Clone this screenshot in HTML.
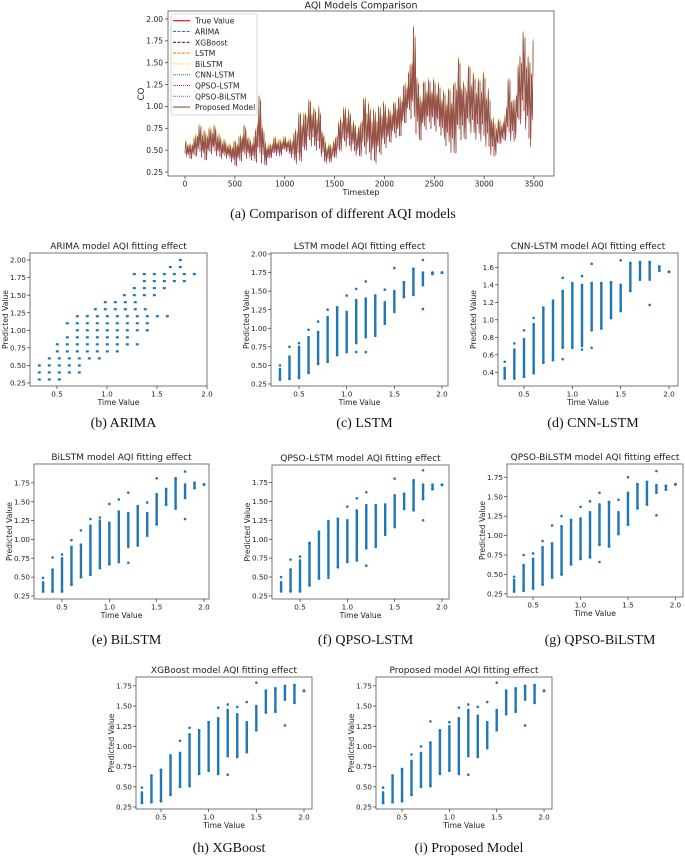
<!DOCTYPE html>
<html><head><meta charset="utf-8">
<style>
html,body{margin:0;padding:0;background:#fff;}
svg{display:block;}
text{font-family:"DejaVu Sans","Liberation Sans",sans-serif;fill:#222;}
.cap{font-family:"Liberation Serif","DejaVu Serif",serif;font-size:14px;fill:#111;}
</style></head>
<body>
<svg id="fig" width="685" height="856" viewBox="0 0 685 856" xmlns="http://www.w3.org/2000/svg"></svg>
<script>
// ===== Top chart data (CO per 50-timestep bin) =====
const binTimes = [0,50,100,150,200,250,300,350,400,450,500,550,600,650,700,750,800,850,900,950,1000,1050,1100,1150,1200,1250,1300,1350,1400,1450,1500,1550,1600,1650,1700,1750,1800,1850,1900,1950,2000,2050,2100,2150,2200,2250,2300,2350,2400,2450,2500,2550,2600,2650,2700,2750,2800,2850,2900,2950,3000,3050,3100,3150,3200,3250,3300,3350,3400,3450,3500];
const binHigh = [0.62,0.55,0.65,0.80,0.70,0.75,0.78,0.65,0.60,0.55,0.60,0.65,0.80,0.60,0.65,1.20,0.60,0.55,0.65,0.60,0.65,0.60,0.70,0.95,0.90,1.10,0.95,1.00,0.60,0.55,0.60,0.85,1.00,0.95,0.80,0.75,1.15,1.00,0.95,1.00,1.05,0.95,1.05,1.10,1.25,1.40,2.00,1.10,1.30,1.30,1.30,1.25,1.15,1.20,1.25,1.60,1.20,1.50,1.35,1.30,1.40,1.15,0.80,0.85,0.80,1.40,1.00,1.55,1.90,1.50,1.80];
const binLow = [0.45,0.40,0.42,0.45,0.35,0.45,0.45,0.40,0.42,0.40,0.30,0.35,0.40,0.40,0.35,0.35,0.30,0.40,0.45,0.42,0.50,0.45,0.35,0.30,0.45,0.55,0.50,0.45,0.35,0.35,0.40,0.45,0.55,0.50,0.45,0.40,0.45,0.40,0.30,0.40,0.50,0.55,0.65,0.60,0.75,0.90,0.70,0.55,0.70,0.75,0.70,0.70,0.55,0.50,0.35,0.60,0.55,0.70,0.60,0.60,0.55,0.45,0.38,0.55,0.60,0.60,0.55,0.75,0.80,0.50,0.50];
const topYTicks = [0.25,0.50,0.75,1.00,1.25,1.50,1.75,2.00];
const topXTicks = [0,500,1000,1500,2000,2500,3000,3500];
const legendLabels = ["True Value","ARIMA","XGBoost","LSTM","BiLSTM","CNN-LSTM","QPSO-LSTM","QPSO-BiLSTM","Proposed Model"];

// ===== Scatter data =====
const colX = [0.3,0.4,0.5,0.6,0.7,0.8,0.9,1.0,1.1,1.2,1.3,1.4,1.5,1.6,1.7,1.8,1.9,2.0];
const arimaLevels = [0.3,0.4,0.5,0.6,0.7,0.8,0.9,1.0,1.1,1.2,1.3,1.4,1.5,1.6,1.7,1.8,1.9,2.0];
const arimaXmin = [0.32,0.32,0.32,0.42,0.50,0.50,0.60,0.70,0.60,0.70,0.88,0.98,1.17,1.27,1.37,1.27,1.63,1.73];
const arimaXmax = [0.52,0.80,0.80,0.98,1.18,1.37,1.27,1.47,1.47,1.63,1.45,1.28,1.55,1.65,1.83,1.93,1.73,1.73];
const lstmLo  = [0.31,0.32,0.35,0.40,0.52,0.55,0.64,0.68,0.80,0.88,0.90,1.06,1.22,1.42,1.45,1.58,1.73,1.75];
const lstmHi  = [0.45,0.62,0.75,0.88,0.95,1.15,1.28,1.22,1.38,1.40,1.44,1.35,1.50,1.62,1.80,1.75,1.75,1.75];
const lstmMin = [0.31,0.32,0.33,0.40,0.52,0.55,0.64,0.68,0.68,0.68,0.90,1.06,1.22,1.42,1.45,1.26,1.73,1.75];
const lstmMax = [0.50,0.75,0.80,0.98,1.09,1.25,1.28,1.44,1.53,1.63,1.44,1.52,1.81,1.62,1.80,1.92,1.75,1.75];
const cnnLo  = [0.33,0.33,0.35,0.39,0.51,0.54,0.68,0.68,0.70,0.88,0.90,1.02,1.10,1.33,1.46,1.46,1.56,1.55];
const cnnHi  = [0.45,0.66,0.78,0.95,1.12,1.20,1.33,1.40,1.40,1.42,1.42,1.43,1.40,1.65,1.66,1.66,1.61,1.55];
const cnnMin = [0.33,0.33,0.35,0.39,0.51,0.54,0.55,0.68,0.66,0.68,0.90,1.02,1.10,1.33,1.46,1.17,1.56,1.55];
const cnnMax = [0.52,0.73,0.88,1.02,1.14,1.22,1.48,1.42,1.50,1.64,1.42,1.43,1.68,1.65,1.66,1.66,1.61,1.55];
const biLo  = [0.31,0.31,0.31,0.40,0.50,0.53,0.62,0.67,0.70,0.90,0.92,1.05,1.20,1.46,1.41,1.55,1.68,1.73];
const biHi  = [0.43,0.60,0.75,0.90,0.93,1.18,1.25,1.22,1.37,1.35,1.44,1.35,1.60,1.67,1.81,1.73,1.75,1.73];
const biMin = [0.31,0.31,0.31,0.40,0.50,0.53,0.62,0.67,0.70,0.69,0.92,1.05,1.20,1.46,1.41,1.27,1.68,1.73];
const biMax = [0.49,0.76,0.80,0.99,1.12,1.27,1.29,1.47,1.53,1.62,1.44,1.49,1.81,1.67,1.81,1.90,1.75,1.73];
const qlLo  = [0.31,0.31,0.31,0.39,0.48,0.52,0.63,0.70,0.72,0.88,0.90,1.06,1.18,1.40,1.40,1.53,1.66,1.72];
const qlHi  = [0.43,0.60,0.72,0.95,1.08,1.22,1.27,1.25,1.38,1.45,1.45,1.45,1.58,1.60,1.76,1.72,1.72,1.72];
const qlMin = [0.31,0.31,0.31,0.39,0.48,0.49,0.63,0.70,0.72,0.65,0.90,1.06,1.16,1.40,1.38,1.25,1.66,1.72];
const qlMax = [0.50,0.73,0.77,0.95,1.10,1.24,1.27,1.43,1.54,1.62,1.45,1.46,1.80,1.60,1.78,1.91,1.72,1.72];
const qbLo  = [0.28,0.29,0.32,0.37,0.46,0.50,0.63,0.70,0.72,0.88,0.86,1.02,1.14,1.35,1.40,1.55,1.59,1.66];
const qbHi  = [0.43,0.62,0.70,0.85,0.90,1.12,1.20,1.22,1.30,1.40,1.43,1.30,1.55,1.66,1.69,1.65,1.64,1.66];
const qbMin = [0.28,0.29,0.32,0.37,0.46,0.50,0.63,0.70,0.72,0.66,0.86,1.02,1.14,1.35,1.40,1.26,1.59,1.66];
const qbMax = [0.47,0.75,0.77,0.93,1.13,1.25,1.20,1.37,1.44,1.55,1.43,1.46,1.75,1.66,1.69,1.83,1.64,1.66];
const xgLo  = [0.30,0.31,0.33,0.40,0.50,0.51,0.66,0.70,0.66,0.88,0.87,0.93,1.20,1.42,1.43,1.58,1.54,1.69];
const xgHi  = [0.43,0.64,0.71,0.87,0.92,1.15,1.20,1.30,1.35,1.45,1.40,1.30,1.50,1.69,1.72,1.75,1.76,1.69];
const xgMin = [0.30,0.31,0.32,0.40,0.50,0.51,0.66,0.70,0.66,0.65,0.87,0.93,1.20,1.42,1.43,1.26,1.54,1.69];
const xgMax = [0.49,0.64,0.71,0.89,1.07,1.23,1.20,1.30,1.48,1.52,1.49,1.55,1.79,1.69,1.72,1.75,1.76,1.69];
const prLo  = [0.30,0.31,0.33,0.40,0.50,0.51,0.66,0.70,0.66,0.88,0.87,0.98,1.20,1.40,1.43,1.58,1.54,1.69];
const prHi  = [0.43,0.64,0.72,0.82,0.92,1.05,1.20,1.25,1.35,1.45,1.38,1.30,1.45,1.69,1.72,1.75,1.76,1.69];
const prMin = [0.30,0.31,0.32,0.40,0.50,0.51,0.66,0.70,0.66,0.65,0.87,0.98,1.20,1.40,1.43,1.26,1.54,1.69];
const prMax = [0.49,0.64,0.72,0.90,1.00,1.31,1.20,1.30,1.48,1.52,1.49,1.55,1.79,1.69,1.72,1.75,1.76,1.69];

const NS = "http://www.w3.org/2000/svg";
const svg = document.getElementById('fig');
function mk(tag, attrs, parent, txt) {
  const e = document.createElementNS(NS, tag);
  for (const k in attrs) e.setAttribute(k, attrs[k]);
  if (txt !== undefined) e.textContent = txt;
  (parent || svg).appendChild(e);
  return e;
}
const BLUE = "#1f77b4";
const TICKF = 7.2;

// ===== Top chart =====
(function(){
  const L=168,T=11,R=554,B=176;
  const xs = t => 185 + t*(349/3500);
  const ys = v => 172 - (v-0.25)*(153/1.75);
  const g = mk('g',{});
  
  
  const clip = mk('clipPath',{id:'topclip'},g);
  mk('rect',{x:L,y:T,width:R-L,height:B-T},clip);
  const pat = [0.15,0.95,0.05,0.75,0.3,1];
  const N = pat.length;
  function zig(off){
    let pts=[];
    for(let i=0;i<binTimes.length-1;i++){
      for(let j=0;j<N;j++){
        const f=j/N;
        const t=binTimes[i]+(binTimes[i+1]-binTimes[i])*f;
        const hi=binHigh[i]+(binHigh[i+1]-binHigh[i])*f;
        const lo=binLow[i]+(binLow[i+1]-binLow[i])*f;
        const v=lo+pat[j]*(hi-lo);
        pts.push(xs(t).toFixed(1)+","+(ys(v)+off).toFixed(1));
      }
    }
    return pts.join(" ");
  }
  const series = [
    ["series-cnn-lstm","#2ca02c","1,1",-1.5],
    ["series-xgboost","#800080","3,1",1.5],
    ["series-bilstm","#e6d800","1,1",-2.5],
    ["series-lstm","#ff7f0e","3,1",-0.8],
    ["series-qpso-bilstm","#9467bd","1,1",1],
    ["series-true-value","#ff0000","",0.5],
    ["series-proposed","#8c564b","",0]
  ];
  const dg = mk('g',{'clip-path':'url(#topclip)'},g);
  series.forEach(s=>{
    const p = mk('polyline',{points:zig(s[3]),fill:'none',stroke:s[1],'stroke-width':s[0]==="series-proposed"?0.7:0.5,'stroke-dasharray':s[2]},dg);
    
    
  });
  const frame = mk('rect',{x:L,y:T,width:R-L,height:B-T,fill:'none',stroke:'#555','stroke-width':0.8},g);
  
  
  topYTicks.forEach(v=>{
    mk('line',{x1:L-3,x2:L,y1:ys(v),y2:ys(v),stroke:'#333','stroke-width':0.7},g);
    const t=mk('text',{x:L-5,y:ys(v)+2.8,'font-size':TICKF+0.3,'text-anchor':'end'},g,v.toFixed(2));
    
    
  });
  topXTicks.forEach(v=>{
    mk('line',{x1:xs(v),x2:xs(v),y1:B,y2:B+3,stroke:'#333','stroke-width':0.7},g);
    const t=mk('text',{x:xs(v),y:B+10.5,'font-size':TICKF+0.3,'text-anchor':'middle'},g,String(v));
    
    
  });
  const tt=mk('text',{x:(L+R)/2,y:8.5,'font-size':9.5,'text-anchor':'middle'},g,"AQI Models Comparison");
  
  
  const xl=mk('text',{x:(L+R)/2,y:195,'font-size':8,'text-anchor':'middle'},g,"Timestep");
  
  
  const yl=mk('text',{x:144,y:94,'font-size':8.5,'text-anchor':'middle',transform:'rotate(-90 144 94)'},g,"CO");
  
  
  const lg = mk('g',{},g);
  
  
  mk('rect',{x:171,y:14,width:86,height:101,rx:2,fill:'#fff','fill-opacity':0.9,stroke:'#ccc','stroke-width':0.8},lg);
  const legStyles = [["#ff0000",""],["#1f77b4","3,1.5"],["#800080","3,1.5"],["#ff7f0e","3,1.5"],["#f5e600","1,1"],["#2ca02c","1,1"],["#d62728","1,1"],["#9467bd","1,1"],["#8c564b",""]];
  legendLabels.forEach((lab,i)=>{
    const y=20.7+i*10.8;
    const e=mk('g',{},lg);
    
    
    mk('line',{x1:173,x2:190,y1:y,y2:y,stroke:legStyles[i][0],'stroke-width':1.1,'stroke-dasharray':legStyles[i][1]},e);
    mk('text',{x:195,y:y+3,'font-size':7.6},e,lab);
  });
  const c=mk('text',{x:343,y:218,'text-anchor':'middle'},null,"(a) Comparison of different AQI models");
  c.setAttribute('class','cap');
  
  
})();

// ===== Scatter panels =====
function panel(cfg){
  const {box,xlim,ylim,yticks,ydec,title,caption,capY,name} = cfg;
  const [L,T,R,B]=box;
  const xs = v => L + (v-xlim[0])/(xlim[1]-xlim[0])*(R-L);
  const ys = v => B - (v-ylim[0])/(ylim[1]-ylim[0])*(B-T);
  const g = mk('g',{});
  
  
  const pts = mk('g',{fill:BLUE},g);
  
  
  if(cfg.arima){
    arimaLevels.forEach((lv,i)=>{
      for(let x=arimaXmin[i]; x<=arimaXmax[i]+1e-6; x+=0.1){
        const d=mk('rect',{x:xs(x)-1.2,y:ys(lv)-1.1,width:3,height:2.2},pts);
        
        
      }
    });
  } else {
    colX.forEach((x,i)=>{
      const cx=xs(x);
      const band=mk('rect',{x:cx-1.2,y:ys(cfg.hi[i]),width:2.4,height:Math.max(1.5,ys(cfg.lo[i])-ys(cfg.hi[i]))},pts);
      
      
      [cfg.mn[i],cfg.mx[i],cfg.lo[i],cfg.hi[i]].forEach(v=>{
        const d=mk('circle',{cx:cx,cy:ys(v),r:1.3},pts);
        
        
      });
    });
  }
  mk('rect',{x:L,y:T,width:R-L,height:B-T,fill:'none',stroke:'#555','stroke-width':0.8},g);
  yticks.forEach(v=>{
    mk('line',{x1:L-3,x2:L,y1:ys(v),y2:ys(v),stroke:'#333','stroke-width':0.7},g);
    const t=mk('text',{x:L-4,y:ys(v)+2.6,'font-size':TICKF,'text-anchor':'end'},g,v.toFixed(ydec));
    
    
  });
  [0.5,1.0,1.5,2.0].forEach(v=>{
    mk('line',{x1:xs(v),x2:xs(v),y1:B,y2:B+3,stroke:'#333','stroke-width':0.7},g);
    const t=mk('text',{x:xs(v),y:B+10.5,'font-size':TICKF,'text-anchor':'middle'},g,v.toFixed(1));
    
    
  });
  const tt=mk('text',{x:(L+R)/2,y:T-4,'font-size':9,'text-anchor':'middle'},g,title);
  
  
  const xl=mk('text',{x:(L+R)/2,y:B+19,'font-size':7.6,'text-anchor':'middle'},g,"Time Value");
  
  
  const yx=L-22, yy=(T+B)/2;
  const yl=mk('text',{x:yx,y:yy,'font-size':7.6,'text-anchor':'middle',transform:`rotate(-90 ${yx} ${yy})`},g,"Predicted Value");
  
  
  const c=mk('text',{x:(L+R)/2+5,y:capY,'text-anchor':'middle'},g,caption);
  c.setAttribute('class','cap');
  
  
}
const Y25=[0.25,0.50,0.75,1.00,1.25,1.50,1.75];
panel({name:'arima-panel',arima:true,box:[30,253,207,386],xlim:[0.23,2.0],ylim:[0.207,2.10],yticks:Y25.concat([2.0]),ydec:2,title:"ARIMA model AQI fitting effect",caption:"(b) ARIMA",capY:427});
panel({name:'lstm-panel',box:[271,253,448,386],xlim:[0.206,2.063],ylim:[0.223,2.013],yticks:Y25.concat([2.0]),ydec:2,title:"LSTM model AQI fitting effect",caption:"(c) LSTM",capY:427,lo:lstmLo,hi:lstmHi,mn:lstmMin,mx:lstmMax});
panel({name:'cnn-lstm-panel',box:[498,253,678,386],xlim:[0.231,2.093],ylim:[0.243,1.764],yticks:[0.4,0.6,0.8,1.0,1.2,1.4,1.6],ydec:1,title:"CNN-LSTM model AQI fitting effect",caption:"(d) CNN-LSTM",capY:427,lo:cnnLo,hi:cnnHi,mn:cnnMin,mx:cnnMax});
panel({name:'bilstm-panel',box:[34,464,209,599],xlim:[0.204,2.053],ylim:[0.21,2.0],yticks:Y25,ydec:2,title:"BiLSTM model AQI fitting effect",caption:"(e) BiLSTM",capY:644,lo:biLo,hi:biHi,mn:biMin,mx:biMax});
panel({name:'qpso-lstm-panel',box:[272,465,449,599],xlim:[0.204,2.074],ylim:[0.21,1.98],yticks:Y25,ydec:2,title:"QPSO-LSTM model AQI fitting effect",caption:"(f) QPSO-LSTM",capY:644,lo:qlLo,hi:qlHi,mn:qlMin,mx:qlMax});
panel({name:'qpso-bilstm-panel',box:[507,464,683,597],xlim:[0.225,2.08],ylim:[0.21,1.92],yticks:Y25,ydec:2,title:"QPSO-BiLSTM model AQI fitting effect",caption:"(g) QPSO-BiLSTM",capY:644,lo:qbLo,hi:qbHi,mn:qbMin,mx:qbMax});
panel({name:'xgboost-panel',box:[136,677,312,809],xlim:[0.238,2.084],ylim:[0.225,1.86],yticks:Y25,ydec:2,title:"XGBoost model AQI fitting effect",caption:"(h) XGBoost",capY:852,lo:xgLo,hi:xgHi,mn:xgMin,mx:xgMax});
panel({name:'proposed-panel',box:[376,677,552,809],xlim:[0.225,2.084],ylim:[0.225,1.86],yticks:Y25,ydec:2,title:"Proposed model AQI fitting effect",caption:"(i) Proposed Model",capY:852,lo:prLo,hi:prHi,mn:prMin,mx:prMax});
</script>
</body></html>
